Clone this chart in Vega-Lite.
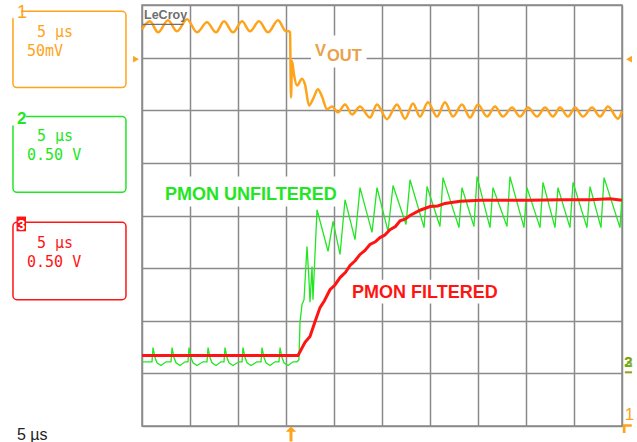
{
  "$schema": "https://vega.github.io/schema/vega-lite/v6.json",
  "width": 480,
  "height": 421,
  "autosize": {"type": "none"},
  "padding": {"left": 142, "top": 5, "right": 15, "bottom": 16},
  "background": "white",
  "config": {"view": {"stroke": "#8a8a8a", "strokeWidth": 1.5}},
  "datasets": {
    "vout": [
      {"t":0,"v":3.54},{"t":0.83,"v":3.69},{"t":1.67,"v":3.48},{"t":2.71,"v":3.71},{"t":3.65,"v":3.50},{"t":4.69,"v":3.73},{"t":5.73,"v":3.48},{"t":6.77,"v":3.67},{"t":7.71,"v":3.48},{"t":8.54,"v":3.69},{"t":9.48,"v":3.48},{"t":10.42,"v":3.69},{"t":11.25,"v":3.50},{"t":12.19,"v":3.69},{"t":13.13,"v":3.48},{"t":14.17,"v":3.71},{"t":15.0,"v":3.50},{"t":15.31,"v":3.50},{"t":15.42,"v":3.48},{"t":15.52,"v":2.24},{"t":15.63,"v":2.93},{"t":15.83,"v":2.68},{"t":16.15,"v":2.47},{"t":16.67,"v":2.60},{"t":16.98,"v":2.49},{"t":17.40,"v":2.09},{"t":17.81,"v":2.21},{"t":18.33,"v":2.40},{"t":18.75,"v":2.26},{"t":19.27,"v":2.02},{"t":19.79,"v":2.07},{"t":20.42,"v":1.96},{"t":21.15,"v":2.11},{"t":21.88,"v":1.92},{"t":22.71,"v":2.07},{"t":23.75,"v":1.86},{"t":24.48,"v":2.11},{"t":25.52,"v":1.83},{"t":26.56,"v":2.11},{"t":27.40,"v":1.84},{"t":28.23,"v":2.13},{"t":28.96,"v":1.88},{"t":29.79,"v":2.15},{"t":30.73,"v":1.88},{"t":31.56,"v":2.15},{"t":32.40,"v":1.88},{"t":33.33,"v":2.11},{"t":34.17,"v":1.86},{"t":35.0,"v":2.11},{"t":35.94,"v":1.88},{"t":36.77,"v":2.07},{"t":37.60,"v":1.88},{"t":38.54,"v":2.05},{"t":39.38,"v":1.88},{"t":40.21,"v":2.05},{"t":41.15,"v":1.88},{"t":41.98,"v":2.05},{"t":42.81,"v":1.88},{"t":43.54,"v":2.05},{"t":44.38,"v":1.88},{"t":45.10,"v":2.05},{"t":45.94,"v":1.88},{"t":46.88,"v":2.05},{"t":47.71,"v":1.88},{"t":48.54,"v":2.07},{"t":49.58,"v":1.84},{"t":50,"v":1.98}
    ],
    "filtered": [
      {"t":0,"v":-2.66},{"t":16.25,"v":-2.66},{"t":16.98,"v":-2.41},{"t":17.5,"v":-2.30},{"t":18.02,"v":-2.02},{"t":18.54,"v":-1.75},{"t":19.0,"v":-1.62},{"t":19.58,"v":-1.41},{"t":20.1,"v":-1.32},{"t":20.63,"v":-1.18},{"t":21.2,"v":-1.08},{"t":21.67,"v":-0.95},{"t":22.2,"v":-0.86},{"t":22.71,"v":-0.74},{"t":23.2,"v":-0.67},{"t":23.75,"v":-0.55},{"t":24.3,"v":-0.50},{"t":24.79,"v":-0.42},{"t":25.3,"v":-0.37},{"t":25.83,"v":-0.27},{"t":26.4,"v":-0.21},{"t":26.88,"v":-0.10},{"t":27.4,"v":-0.07},{"t":27.92,"v":0},{"t":28.96,"v":0.10},{"t":30.0,"v":0.17},{"t":30.8,"v":0.18},{"t":31.56,"v":0.23},{"t":33.13,"v":0.27},{"t":35.21,"v":0.29},{"t":37.29,"v":0.29},{"t":40.42,"v":0.29},{"t":43.54,"v":0.30},{"t":46.67,"v":0.30},{"t":48.75,"v":0.32},{"t":50,"v":0.29}
    ],
    "unfiltered": [
      {"t":0,"v":-2.78},{"t":1.04,"v":-2.78},{"t":1.15,"v":-2.51},{"t":1.35,"v":-2.70},{"t":1.56,"v":-2.80},{"t":1.98,"v":-2.85},{"t":2.5,"v":-2.78},
      {"t":3.02,"v":-2.78},{"t":3.13,"v":-2.51},{"t":3.33,"v":-2.70},{"t":3.54,"v":-2.80},{"t":3.96,"v":-2.85},{"t":4.48,"v":-2.78},
      {"t":4.79,"v":-2.78},{"t":4.90,"v":-2.51},{"t":5.10,"v":-2.70},{"t":5.31,"v":-2.80},{"t":5.73,"v":-2.85},{"t":6.35,"v":-2.78},
      {"t":6.77,"v":-2.78},{"t":6.88,"v":-2.51},{"t":7.08,"v":-2.70},{"t":7.29,"v":-2.80},{"t":7.71,"v":-2.85},{"t":8.23,"v":-2.78},
      {"t":8.54,"v":-2.78},{"t":8.65,"v":-2.51},{"t":8.85,"v":-2.70},{"t":9.06,"v":-2.80},{"t":9.48,"v":-2.85},{"t":10.10,"v":-2.78},
      {"t":10.42,"v":-2.78},{"t":10.52,"v":-2.51},{"t":10.73,"v":-2.70},{"t":10.94,"v":-2.80},{"t":11.35,"v":-2.85},{"t":11.98,"v":-2.78},
      {"t":12.40,"v":-2.78},{"t":12.50,"v":-2.51},{"t":12.71,"v":-2.70},{"t":12.92,"v":-2.80},{"t":13.33,"v":-2.85},{"t":13.85,"v":-2.78},
      {"t":14.27,"v":-2.78},{"t":14.38,"v":-2.51},{"t":14.58,"v":-2.70},{"t":14.79,"v":-2.80},{"t":15.21,"v":-2.85},{"t":15.73,"v":-2.78},
      {"t":16.15,"v":-2.78},{"t":16.35,"v":-2.74},{"t":16.46,"v":-2.02},{"t":16.67,"v":-1.69},{"t":16.88,"v":-1.60},{"t":17.08,"v":-0.93},{"t":17.19,"v":-0.59},{"t":17.40,"v":-1.25},{"t":17.50,"v":-1.65},{"t":17.71,"v":-0.97},{"t":17.81,"v":-1.60},{"t":18.23,"v":0.11},
      {"t":19.38,"v":-0.68},{"t":19.90,"v":-0.11},{"t":20.63,"v":-0.74},{"t":21.15,"v":0.30},{"t":22.19,"v":-0.46},{"t":22.71,"v":0.53},{"t":23.96,"v":-0.32},{"t":24.48,"v":0.53},{"t":25.63,"v":-0.30},{"t":26.15,"v":0.57},{"t":27.5,"v":-0.17},{"t":27.92,"v":0.68},{"t":29.38,"v":-0.23},{"t":29.69,"v":0.55},{"t":31.04,"v":-0.21},{"t":31.35,"v":0.72},{"t":33.02,"v":-0.23},{"t":33.33,"v":0.53},{"t":34.58,"v":-0.21},{"t":34.90,"v":0.74},{"t":36.25,"v":-0.23},{"t":36.56,"v":0.53},{"t":38.02,"v":-0.21},{"t":38.33,"v":0.74},{"t":39.79,"v":-0.23},{"t":40.10,"v":0.53},{"t":41.46,"v":-0.23},{"t":41.77,"v":0.63},{"t":43.02,"v":-0.23},{"t":43.33,"v":0.53},{"t":44.58,"v":-0.23},{"t":44.90,"v":0.63},{"t":46.35,"v":-0.23},{"t":46.67,"v":0.55},{"t":47.81,"v":-0.23},{"t":48.13,"v":0.72},{"t":49.79,"v":-0.23},{"t":50,"v":0.36}
    ],
    "hticks": [{"t":1},{"t":2},{"t":3},{"t":4},{"t":6},{"t":7},{"t":8},{"t":9},{"t":11},{"t":12},{"t":13},{"t":14},{"t":16},{"t":17},{"t":18},{"t":19},{"t":21},{"t":22},{"t":23},{"t":24},{"t":26},{"t":27},{"t":28},{"t":29},{"t":31},{"t":32},{"t":33},{"t":34},{"t":36},{"t":37},{"t":38},{"t":39},{"t":41},{"t":42},{"t":43},{"t":44},{"t":46},{"t":47},{"t":48},{"t":49}],
    "vticks": [{"v":-3.8},{"v":-3.6},{"v":-3.4},{"v":-3.2},{"v":-2.8},{"v":-2.6},{"v":-2.4},{"v":-2.2},{"v":-1.8},{"v":-1.6},{"v":-1.4},{"v":-1.2},{"v":-0.8},{"v":-0.6},{"v":-0.4},{"v":-0.2},{"v":0.2},{"v":0.4},{"v":0.6},{"v":0.8},{"v":1.2},{"v":1.4},{"v":1.6},{"v":1.8},{"v":2.2},{"v":2.4},{"v":2.6},{"v":2.8},{"v":3.2},{"v":3.4},{"v":3.6},{"v":3.8}],
    "dots": [{"v":2.5},{"v":-2.5}],
    "masks": [
      {"t":1.9,"t2":20.6,"v":0.74,"v2":0.17},
      {"t":21.46,"t2":37.3,"v":-1.22,"v2":-1.67},
      {"t":17.6,"t2":23.4,"v":3.42,"v2":2.81}
    ],
    "boxes": [
      {"ch":"1","t":-13.44,"t2":-1.67,"v":3.88,"v2":2.43},
      {"ch":"2","t":-13.44,"t2":-1.67,"v":1.88,"v2":0.44},
      {"ch":"3","t":-13.44,"t2":-1.67,"v":-0.13,"v2":-1.60}
    ],
    "digitmasks": [
      {"t":-13.6,"t2":-12.6,"v":4.03,"v2":3.75},
      {"t":-13.6,"t2":-12.1,"v":2.0,"v2":1.71}
    ],
    "boxtext": [
      {"ch":"1","t":-10.94,"v":3.40,"label":"5 µs"},
      {"ch":"1","t":-11.98,"v":3.04,"label":"50mV"},
      {"ch":"2","t":-10.94,"v":1.41,"label":"5 µs"},
      {"ch":"2","t":-11.98,"v":1.05,"label":"0.50 V"},
      {"ch":"3","t":-10.94,"v":-0.61,"label":"5 µs"},
      {"ch":"3","t":-11.98,"v":-0.97,"label":"0.50 V"}
    ]
  },
  "encoding": {
    "x": {"field": "t", "type": "quantitative", "scale": {"domain": [0, 50], "nice": false, "zero": false},
          "axis": {"values": [0,5,10,15,20,25,30,35,40,45,50], "grid": true, "gridColor": "#8a8a8a", "gridWidth": 1.5, "gridOpacity": 1, "labels": false, "ticks": false, "domain": false, "title": null}},
    "y": {"field": "v", "type": "quantitative", "scale": {"domain": [-4, 4], "nice": false, "zero": false},
          "axis": {"values": [-4,-3,-2,-1,0,1,2,3,4], "grid": true, "gridColor": "#8a8a8a", "gridWidth": 1.5, "gridOpacity": 1, "labels": false, "ticks": false, "domain": false, "title": null}}
  },
  "layer": [
    {"data": {"name": "dots"}, "mark": {"type": "rule", "color": "#8a8a8a", "strokeWidth": 1.5, "strokeDash": [1.5, 8.1]},
     "encoding": {"x": {"datum": 1}, "x2": {"datum": 49}, "y": {"field": "v", "type": "quantitative"}}},
    {"data": {"name": "hticks"}, "mark": {"type": "rule", "color": "#8a8a8a", "strokeWidth": 1.5},
     "encoding": {"x": {"field": "t", "type": "quantitative"}, "y": {"datum": -0.08}, "y2": {"datum": 0.08}}},
    {"data": {"name": "vticks"}, "mark": {"type": "rule", "color": "#8a8a8a", "strokeWidth": 1.5},
     "encoding": {"y": {"field": "v", "type": "quantitative"}, "x": {"datum": 24.5}, "x2": {"datum": 25.5}}},
    {"data": {"name": "masks"}, "mark": {"type": "rect", "color": "white"},
     "encoding": {"x2": {"field": "t2"}, "y2": {"field": "v2"}}},
    {"data": {"name": "vout"}, "mark": {"type": "line", "color": "#ffa31a", "strokeWidth": 2.5, "interpolate": "monotone"}},
    {"data": {"name": "unfiltered"}, "mark": {"type": "line", "color": "#22e622", "strokeWidth": 1.3}},
    {"data": {"name": "filtered"}, "mark": {"type": "line", "color": "#ff1414", "strokeWidth": 3}},
    {"data": {"values": [{"t": 2.4, "v": 0.295, "label": "PMON UNFILTERED"}]},
     "mark": {"type": "text", "align": "left", "baseline": "alphabetic", "font": "Liberation Sans", "fontWeight": "bold", "fontSize": 18, "color": "#22e622"},
     "encoding": {"text": {"field": "label"}}},
    {"data": {"values": [{"t": 21.875, "v": -1.57, "label": "PMON FILTERED"}]},
     "mark": {"type": "text", "align": "left", "baseline": "alphabetic", "font": "Liberation Sans", "fontWeight": "bold", "fontSize": 18, "color": "#ff1414"},
     "encoding": {"text": {"field": "label"}}},
    {"data": {"values": [{"t": 18.02, "v": 3.04, "label": "V"}, {"t": 19.27, "v": 2.93, "label": "OUT"}]},
     "mark": {"type": "text", "align": "left", "baseline": "alphabetic", "font": "Liberation Sans", "fontWeight": "bold", "fontSize": 16.5, "color": "#e8a24b"},
     "encoding": {"text": {"field": "label"}}},
    {"data": {"values": [{"t": 0.21, "v": 3.73, "label": "LeCroy"}]},
     "mark": {"type": "text", "align": "left", "baseline": "alphabetic", "font": "Liberation Sans", "fontWeight": "bold", "fontSize": 12.5, "color": "#6e6e6e"},
     "encoding": {"text": {"field": "label"}}},
    {"data": {"values": [{"t": 0.1, "t2": 4.3, "v": 3.63}]}, "mark": {"type": "rule", "color": "#6e6e6e", "strokeWidth": 1.2},
     "encoding": {"x2": {"field": "t2"}}},
    {"data": {"name": "boxes"}, "mark": {"type": "rect", "fill": null, "strokeWidth": 1.5, "cornerRadius": 4},
     "encoding": {"x2": {"field": "t2"}, "y2": {"field": "v2"},
                  "stroke": {"field": "ch", "type": "nominal", "scale": {"domain": ["1","2","3"], "range": ["#ffa31a","#22e622","#ff1414"]}, "legend": null}}},
    {"data": {"name": "digitmasks"}, "mark": {"type": "rect", "color": "white"},
     "encoding": {"x2": {"field": "t2"}, "y2": {"field": "v2"}}},
    {"data": {"values": [{"t": -13.07, "t2": -12.08, "v": -0.02, "v2": -0.30}]}, "mark": {"type": "rect", "color": "#ff1414"},
     "encoding": {"x2": {"field": "t2"}, "y2": {"field": "v2"}}},
    {"data": {"name": "boxtext"},
     "mark": {"type": "text", "align": "left", "baseline": "alphabetic", "font": "DejaVu Sans Mono", "fontSize": 15},
     "encoding": {"text": {"field": "label"},
                  "color": {"field": "ch", "type": "nominal", "scale": {"domain": ["1","2","3"], "range": ["#ffa31a","#22e622","#ff1414"]}, "legend": null}}},
    {"data": {"values": [{"t": -13.02, "v": 3.76, "label": "1"}]},
     "mark": {"type": "text", "align": "left", "baseline": "alphabetic", "font": "Liberation Sans", "fontSize": 18, "color": "#ffa31a"},
     "encoding": {"text": {"field": "label"}}},
    {"data": {"values": [{"t": -13.02, "v": 1.73, "label": "2"}]},
     "mark": {"type": "text", "align": "left", "baseline": "alphabetic", "font": "Liberation Sans", "fontWeight": "bold", "fontSize": 17, "color": "#22e622"},
     "encoding": {"text": {"field": "label"}}},
    {"data": {"values": [{"t": -12.57, "v": -0.285, "label": "3"}]},
     "mark": {"type": "text", "align": "center", "baseline": "alphabetic", "font": "Liberation Sans", "fontWeight": "bold", "fontSize": 14, "color": "white"},
     "encoding": {"text": {"field": "label"}}},
    {"data": {"values": [{"t": 50.68, "v": -2.87, "label": "2"}]},
     "mark": {"type": "text", "align": "center", "baseline": "alphabetic", "font": "Liberation Sans", "fontWeight": "bold", "fontSize": 15, "color": "#22e622"},
     "encoding": {"text": {"field": "label"}}},
    {"data": {"values": [{"t": 50.68, "v": -2.87, "label": "3"}]},
     "mark": {"type": "text", "align": "center", "baseline": "alphabetic", "font": "Liberation Sans", "fontWeight": "bold", "fontSize": 15, "color": "#a08c10", "opacity": 0.8},
     "encoding": {"text": {"field": "label"}}},
    {"data": {"values": [{"t": 50.3, "t2": 51.05, "v": -2.98}]}, "mark": {"type": "rule", "color": "#9a9a20", "strokeWidth": 2},
     "encoding": {"x2": {"field": "t2"}}},
    {"data": {"values": [{"t": 50.78, "v": -3.88, "label": "1"}]},
     "mark": {"type": "text", "align": "center", "baseline": "alphabetic", "font": "Liberation Sans", "fontSize": 17, "color": "#ffa31a"},
     "encoding": {"text": {"field": "label"}}},
    {"data": {"values": [{"t": -0.63, "v": 2.97}]},
     "mark": {"type": "point", "shape": "triangle-right", "filled": true, "size": 45, "color": "#ffa31a", "opacity": 1}},
    {"data": {"values": [{"t": 50.73, "v": 2.97}]},
     "mark": {"type": "point", "shape": "triangle-left", "filled": true, "size": 45, "color": "#ffa31a", "opacity": 1}},
    {"data": {"values": [{"t": 50.55, "v": -4.05}]},
     "mark": {"type": "point", "shape": "M-1,-1L1,-1L1,-0.4L-0.4,-0.4L-0.4,1L-1,1Z", "filled": true, "size": 80, "color": "#ffa31a", "opacity": 1}},
    {"data": {"values": [{"t": 15.52, "v": -4.15}]},
     "mark": {"type": "point", "shape": "M0,-1L0.7,-0.3L0.2,-0.3L0.2,1L-0.2,1L-0.2,-0.3L-0.7,-0.3Z", "filled": true, "size": 225, "color": "#ffa31a", "opacity": 1}},
    {"data": {"values": [{"t": -13.02, "v": -4.26, "label": "5 µs"}]},
     "mark": {"type": "text", "align": "left", "baseline": "alphabetic", "font": "Liberation Sans", "fontSize": 16, "color": "#222222"},
     "encoding": {"text": {"field": "label"}}}
  ]
}
